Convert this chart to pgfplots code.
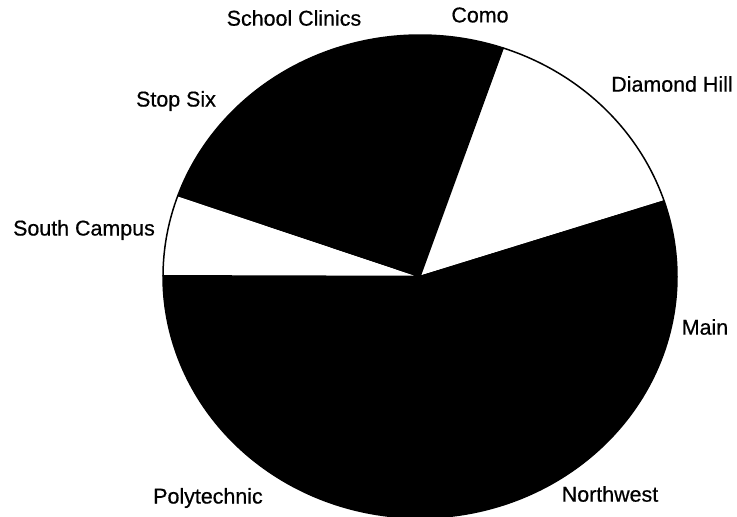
\documentclass[border=0pt]{standalone}
\usepackage{pgfplots}
\usepackage{pgfplotstable}
\pgfplotsset{compat=1.18}
\usepackage{fontspec}
\setmainfont{Liberation Sans}
\newfontfamily\labfont{Liberation Sans}[FakeBold=0.6]

% slices listed clockwise, starting at 83 degrees (percent of total)
\pgfplotstableread[col sep=comma]{
label,pct,col
Como,3.3,black
Diamond Hill,14.7,white
Main,13.4,black
Northwest,15.3,black
Polytechnic,26.4,black
South Campus,5.4,white
Stop Six,5.4,black
School Clinics,16.1,black
}\piedata

\begin{document}
\begin{tikzpicture}
\begin{axis}[
  name=ax,
  width=737bp, height=517bp, scale only axis,
  xmin=0, xmax=737, ymin=0, ymax=517,
  hide axis, clip=false,
]
\gdef\angstart{83}
\pgfplotsforeachungrouped \i in {0,...,7}{%
  \pgfplotstablegetelem{\i}{pct}\of\piedata \let\p\pgfplotsretval
  \pgfplotstablegetelem{\i}{col}\of\piedata \let\c\pgfplotsretval
  \pgfmathsetmacro\aend{\angstart-3.6*\p}%
  \edef\cmd{\noexpand\addplot[fill=\c, draw=black, line width=1.5pt, line join=round,
     domain=\aend:\angstart, samples=80]
     ({420+257*cos(x)},{240.5+241.5*sin(x)}) -- (420,240.5) -- cycle;}%
  \cmd
  \global\let\angstart\aend
}
\begin{scope}[every node/.style={font=\labfont\fontsize{21.5}{23}\selectfont, inner sep=0pt}]
\node at (axis cs:294,499) {School Clinics};
\node at (axis cs:480,502) {Como};
\node at (axis cs:672,433) {Diamond Hill};
\node at (axis cs:705,190) {Main};
\node at (axis cs:610,23) {Northwest};
\node at (axis cs:208,19) {Polytechnic};
\node at (axis cs:84,287) {South Campus};
\node at (axis cs:176,416) {Stop Six};
\end{scope}
\end{axis}
\pgfresetboundingbox
\path (ax.south west) rectangle (ax.north east);
\end{tikzpicture}
\end{document}
